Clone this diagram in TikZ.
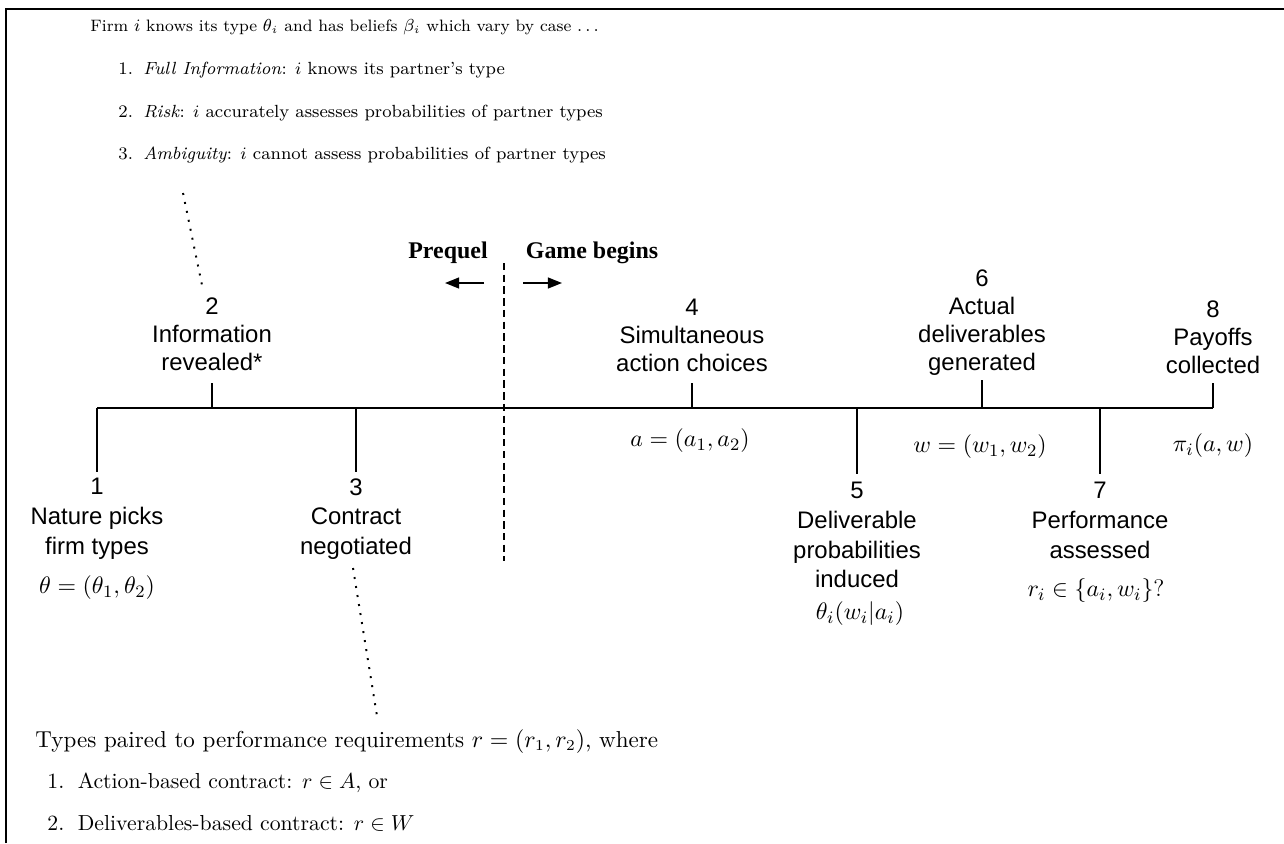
\documentclass[tikz,border=0pt]{standalone}
\usepackage{fontspec}
\newfontfamily\lblfont{Liberation Sans}
\newfontfamily\headfont{Liberation Serif}
\usetikzlibrary{arrows.meta,positioning}

\begin{document}
\begin{tikzpicture}[
x=0.46pt, y=-0.46pt,
stage/.style={align=center, inner sep=0pt, font=\lblfont\fontsize{11}{12.9}\selectfont},
lowstage/.style={stage, font=\lblfont\fontsize{11}{13.6}\selectfont},
formula/.style={inner sep=0pt, font=\fontsize{11}{13}\selectfont},
head/.style={inner sep=0pt, font=\headfont\bfseries\fontsize{11}{13}\selectfont},
note/.style={anchor=base west, inner sep=0pt, font=\fontsize{8.1}{9.7}\selectfont},
case/.style={anchor=base west, inner sep=0pt, font=\fontsize{10}{12}\selectfont},
bar/.style={line width=0.9pt},
hint/.style={line width=0.9pt, dash pattern=on 0.9pt off 3.3pt},
arr/.style={-{Triangle[length=6.5pt,width=5pt]}, line width=0.8pt}
]
\useasboundingbox (0,0) rectangle (1284,843);
\draw[bar] (6,843) -- (6,9) -- (1284,9);

% beliefs
\node[note, font=\fontsize{7.6}{9.2}\selectfont] (firm) at (90,31) {Firm $i$ knows its type $\theta_i$ and has beliefs $\beta_i$ which vary by case $\ldots$};
\node[note] (full) at (118,74) {\makebox[11.5pt][l]{1.}\textit{Full Information}: $i$ knows its partner's type};
\node[note] (risk) at (118,117) {\makebox[11.5pt][l]{2.}\textit{Risk}: $i$ accurately assesses probabilities of partner types};
\node[note] (ambi) at (118,159) {\makebox[11.5pt][l]{3.}\textit{Ambiguity}: $i$ cannot assess probabilities of partner types};

% timeline
\coordinate (t1) at (97,408);
\coordinate (t2) at (212,408);
\coordinate (t3) at (356,408);
\coordinate (t4) at (692,408);
\coordinate (t5) at (857,408);
\coordinate (t6) at (982,408);
\coordinate (t7) at (1100,408);
\coordinate (t8) at (1213,408);
\coordinate (e1) at (97,472);
\coordinate (e2) at (212,383);
\coordinate (e3) at (356,472);
\coordinate (e4) at (692,383);
\coordinate (e5) at (857,474);
\coordinate (e6) at (982,380);
\coordinate (e7) at (1100,474);
\coordinate (e8) at (1213,383);
\draw[bar] (t1) -- (t8);
\foreach \k in {1,...,8} \draw[bar] (t\k) -- (e\k);

\node[lowstage, anchor=north] (s1) at (97,478) {1\\Nature picks\\firm types};
\node[stage, anchor=south] (s2) at (212,371) {2\\Information\\revealed*};
\node[lowstage, anchor=north] (s3) at (356,478) {3\\Contract\\negotiated};
\node[stage, anchor=south] (s4) at (692,372) {4\\Simultaneous\\action choices};
\node[lowstage, anchor=north] (s5) at (857,482) {5\\Deliverable\\probabilities\\induced};
\node[stage, anchor=south] (s6) at (982,376) {6\\Actual\\deliverables\\generated};
\node[lowstage, anchor=north] (s7) at (1100,482) {7\\Performance\\assessed};
\node[stage, anchor=south] (s8) at (1213,374) {8\\Payoffs\\collected};

\node[formula] (f1) at (97,588) {$\theta=(\theta_1,\theta_2)$};
\node[formula] (f4) at (690,441) {$a=(a_1,a_2)$};
\node[formula] (f5) at (860,614) {$\theta_i(w_i|a_i)$};
\node[formula] (f6) at (980,447) {$w=(w_1,w_2)$};
\node[formula] (f7) at (1096,591) {$r_i\in\{a_i,w_i\}$?};
\node[formula] (f8) at (1213,446) {$\pi_i(a,w)$};

% prequel / game
\node[head] (pre) at (448,253) {Prequel};
\node[head] (game) at (592,253) {Game begins};
\coordinate (d1) at (504,263);
\coordinate (d2) at (504,561);
\draw[line width=0.6pt, dash pattern=on 3.4pt off 2pt] (d1) -- (d2);
\coordinate (l1) at (484,283);
\coordinate (l2) at (445,283);
\coordinate (r1) at (523,283);
\coordinate (r2) at (562,283);
\draw[arr] (l1) -- (l2);
\draw[arr] (r1) -- (r2);

% contracts
\node[case, font=\fontsize{10.6}{12.7}\selectfont] (types) at (35,747) {Types paired to performance requirements $r=(r_1,r_2)$, where};
\node[case] (act) at (47,788) {\makebox[14pt][l]{1.}Action-based contract: $r\in A$, or};
\node[case] (del) at (47,830) {\makebox[14pt][l]{2.}Deliverables-based contract: $r\in W$};

\coordinate (h1) at (183,193);
\coordinate (h2) at (203,290);
\coordinate (h3) at (353,568);
\coordinate (h4) at (377,716);
\draw[hint] (h1) -- (h2);
\draw[hint] (h3) -- (h4);
\end{tikzpicture}
\end{document}
